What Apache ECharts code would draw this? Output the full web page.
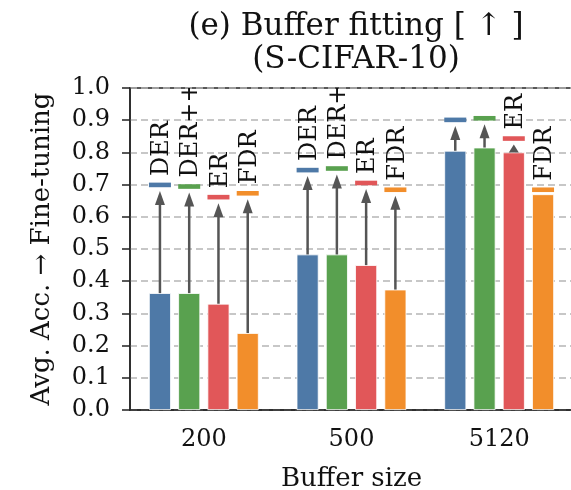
<!DOCTYPE html>
<html>
<head>
<meta charset="utf-8">
<script src="https://cdn.jsdelivr.net/npm/echarts@6/dist/echarts.min.js"></script>
<style>html,body{margin:0;padding:0;background:#fff}#c{width:571px;height:490px}</style>
</head>
<body>
<div id="c"></div>
<script>
const categories = ['200', '500', '5120'];
const methods = ['DER', 'DER++', 'ER', 'FDR'];
const yTicks = [0, 0.1, 0.2, 0.3, 0.4, 0.5, 0.6, 0.7, 0.8, 0.9, 1.0];

// Avg. accuracy (bars) and fine-tuning accuracy (markers)
const derAvg   = [0.363, 0.483, 0.805];
const derFt    = [0.699, 0.745, 0.901];
const derppAvg = [0.363, 0.483, 0.815];
const derppFt  = [0.694, 0.750, 0.906];
const erAvg    = [0.330, 0.450, 0.800];
const erFt     = [0.661, 0.705, 0.843];
const fdrAvg   = [0.239, 0.374, 0.670];
const fdrFt    = [0.673, 0.684, 0.684];

// whether the method label is written above the marker
const derLabel   = [true, true, false];
const derppLabel = [true, true, false];
const erLabel    = [true, true, true];
const fdrLabel   = [true, true, true];

const colors = ['#4e79a7', '#59a14f', '#e15759', '#f28e2b'];
const avgs = [derAvg, derppAvg, erAvg, fdrAvg];
const fts = [derFt, derppFt, erFt, fdrFt];
const labelFlags = [derLabel, derppLabel, erLabel, fdrLabel];

const FONT = '"DejaVu Serif", serif';
const TEXT = '#111111';
const BAR_W = 22;
const GAP_RATIO = 0.33;
const STEP = BAR_W * (1 + GAP_RATIO);

function makeRender(idx) {
  return function (params, api) {
    const ci = api.value(0);
    const base = api.coord([ci, 0]);
    const cx = base[0] + (idx - 1.5) * STEP;
    const yBar = api.coord([ci, api.value(1)])[1];
    const yFt = api.coord([ci, api.value(2)])[1];
    const show = api.value(3);
    const children = [];
    const tip = yFt + 6;
    const d = yBar - tip;
    if (d > 2) {
      const headLen = Math.min(14, d);
      const headW = 10;
      if (d > headLen) {
        children.push({
          type: 'line',
          shape: { x1: cx, y1: yBar, x2: cx, y2: tip + headLen - 1 },
          style: { stroke: '#555555', lineWidth: 2.5 }
        });
      }
      children.push({
        type: 'polygon',
        shape: { points: [[cx, tip], [cx - headW / 2, tip + headLen], [cx + headW / 2, tip + headLen]] },
        style: { fill: '#555555' }
      });
    }
    children.push({
      type: 'rect',
      shape: { x: cx - BAR_W / 2, y: yFt - 2.3, width: BAR_W, height: 4.6 },
      style: { fill: colors[idx] }
    });
    if (show) {
      children.push({
        type: 'text',
        x: cx + 2,
        y: yFt - 9,
        rotation: Math.PI / 2,
        style: {
          text: methods[idx],
          fill: TEXT,
          font: '24px ' + FONT,
          align: 'left',
          verticalAlign: 'middle'
        }
      });
    }
    return { type: 'group', children: children };
  };
}

const series = [];
methods.forEach(function (m, i) {
  series.push({
    name: m,
    type: 'bar',
    data: avgs[i],
    barWidth: BAR_W,
    barGap: (GAP_RATIO * 100) + '%',
    itemStyle: { color: colors[i], borderColor: '#ffffff', borderWidth: 0.8 },
    z: 2
  });
});
methods.forEach(function (m, i) {
  series.push({
    name: m + '-ft',
    type: 'custom',
    renderItem: makeRender(i),
    clip: true,
    data: categories.map(function (c, k) { return [k, avgs[i][k], fts[i][k], labelFlags[i][k] ? 1 : 0]; }),
    encode: { x: 0, y: [1, 2] },
    z: 3
  });
});

const chart = echarts.init(document.getElementById('c'));
chart.setOption({
  animation: false,
  backgroundColor: '#ffffff',
  title: {
    text: '(e) Buffer fitting [ ↑ ]\n(S-CIFAR-10)',
    left: 351,
    top: 5,
    textAlign: 'center',
    textStyle: { fontFamily: FONT, fontSize: 31, fontWeight: 'normal', color: TEXT, lineHeight: 33 }
  },
  grid: {
    left: 130, right: -2, top: 88, bottom: 80,
    outerBoundsMode: 'none',
    containLabel: false,
    show: true, borderColor: '#222222', borderWidth: 1.5, backgroundColor: 'transparent'
  },
  xAxis: {
    type: 'category',
    data: categories,
    name: 'Buffer size',
    nameLocation: 'middle',
    nameGap: 56,
    nameTextStyle: { fontFamily: FONT, fontSize: 26, color: TEXT },
    axisLine: { lineStyle: { color: '#222222', width: 1.5 } },
    axisTick: { alignWithLabel: true, length: 8, lineStyle: { color: '#222222', width: 1.5 } },
    axisLabel: { fontFamily: FONT, fontSize: 24, color: TEXT, margin: 18 },
    splitLine: { show: false }
  },
  yAxis: {
    type: 'value',
    min: 0, max: 1, interval: 0.1,
    name: 'Avg. Acc. → Fine-tuning',
    nameLocation: 'middle',
    nameGap: 75,
    nameTextStyle: { fontFamily: FONT, fontSize: 26, color: TEXT },
    axisLine: { show: true, lineStyle: { color: '#222222', width: 1.5 } },
    axisTick: { show: true, length: 8, lineStyle: { color: '#222222', width: 1.5 } },
    axisLabel: {
      fontFamily: FONT, fontSize: 24, color: TEXT, margin: 20,
      formatter: function (v) {
        const t = yTicks.find(function (x) { return Math.abs(x - v) < 1e-9; });
        return (t !== undefined ? t : v).toFixed(1);
      }
    },
    splitLine: { show: true, lineStyle: { color: '#b5b5b5', width: 1.5, type: [7, 4] } }
  },
  series: series
});
</script>
</body>
</html>
